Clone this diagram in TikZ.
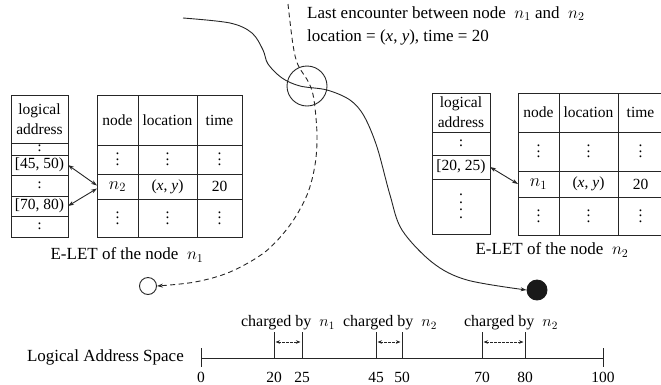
\RequirePackage{fix-cm}
\documentclass[tikz,border=0pt]{standalone}
\usepackage{fontspec}
\setmainfont{Liberation Serif}
\usetikzlibrary{arrows.meta}
\newcommand{\szmain}{\fontsize{17}{23}\selectfont}
\newcommand{\sztab}{\fontsize{15.5}{20}\selectfont}
\newcommand{\sznum}{\fontsize{15.5}{18}\selectfont}
\newcommand{\dtwo}{\vbox{\baselineskip=5pt\lineskiplimit=0pt\hbox{.}\hbox{.}}}
\newcommand{\dthree}{\vbox{\baselineskip=5.5pt\lineskiplimit=0pt\hbox{.}\hbox{.}\hbox{.}}}
\newcommand{\dfour}{\vbox{\baselineskip=7.5pt\lineskiplimit=0pt\hbox{.}\hbox{.}\hbox{.}\hbox{.}}}
\newcommand{\xy}{(\textit{x}, \textit{y})}
\newcommand{\bign}[1]{{\fontsize{18}{20}\selectfont$n_{#1}$}}
\newcommand{\tcell}[6]{\node[tcell, minimum width=#4pt, minimum height=#5pt] (#1) at (#2,#3) {#6};}
\begin{document}
\begin{tikzpicture}[x=1pt,y=-1pt,
  ln/.style={draw=black!85, line width=0.9pt},
  tcell/.style={draw=black!85, line width=0.9pt, rectangle, inner sep=0pt, outer sep=0pt, anchor=north west, align=center, font=\sztab},
  lbl/.style={inner sep=0pt, font=\szmain},
  tip/.style={-{Stealth[length=6pt,width=4pt]}},
  tips/.style={{Stealth[length=6pt,width=4pt]}-{Stealth[length=6pt,width=4pt]}},
  smalltips/.style={{Stealth[length=4.5pt,width=3.5pt]}-{Stealth[length=4.5pt,width=3.5pt]}},
  dsh/.style={dash pattern=on 5pt off 3.5pt},
  tick/.style={ln}]
\useasboundingbox (0,0) rectangle (661,384);

% ---------- left tables (node n1) ----------
\tcell{laA}{11}{95}{57}{48}{logical\\address}
\tcell{laB}{11}{143}{57}{12}{\raisebox{2pt}{\dtwo}}
\tcell{laC}{11}{155}{57}{20}{[45, 50)}
\tcell{laD}{11}{175}{57}{21}{\dtwo}
\tcell{laE}{11}{196}{57}{20}{[70, 80)}
\tcell{laF}{11}{216}{57}{21}{\dtwo}

\tcell{maH1}{97}{95}{41}{50}{node}
\tcell{maH2}{138}{95}{59}{50}{location}
\tcell{maH3}{197}{95}{45}{50}{time}
\tcell{maA1}{97}{145}{41}{29}{\dthree}
\tcell{maA2}{138}{145}{59}{29}{\dthree}
\tcell{maA3}{197}{145}{45}{29}{\dthree}
\tcell{maB1}{97}{174}{41}{25}{\bign{2}}
\tcell{maB2}{138}{174}{59}{25}{\xy}
\tcell{maB3}{197}{174}{45}{25}{20}
\tcell{maC1}{97}{199}{41}{38}{\dthree}
\tcell{maC2}{138}{199}{59}{38}{\dthree}
\tcell{maC3}{197}{199}{45}{38}{\dthree}

\draw[ln, tips] (laC.east) -- ([yshift=1pt]maB1.west);
\draw[ln, tips] (laE.east) -- ([yshift=-2pt]maB1.west);

\node[lbl] (capA) at (127,255) {E-LET of the node \ $n_1$};

% ---------- right tables (node n2) ----------
\tcell{lbA}{432}{93}{58}{39}{logical\\address}
\tcell{lbB}{432}{132}{58}{23}{\dtwo}
\tcell{lbC}{432}{155}{58}{24}{[20, 25)}
\tcell{lbD}{432}{179}{58}{55}{\dfour}

\tcell{mbH1}{518}{93}{41}{39}{node}
\tcell{mbH2}{559}{93}{59}{39}{location}
\tcell{mbH3}{618}{93}{45}{39}{time}
\tcell{mbA1}{518}{132}{41}{39}{\dthree}
\tcell{mbA2}{559}{132}{59}{39}{\dthree}
\tcell{mbA3}{618}{132}{45}{39}{\dthree}
\tcell{mbB1}{518}{171}{41}{26}{\bign{1}}
\tcell{mbB2}{559}{171}{59}{26}{\xy}
\tcell{mbB3}{618}{171}{45}{26}{20}
\tcell{mbC1}{518}{197}{41}{38}{\dthree}
\tcell{mbC2}{559}{197}{59}{38}{\dthree}
\tcell{mbC3}{618}{197}{45}{38}{\dthree}

\draw[ln, tips] (lbC.east) -- (mbB1.west);

\node[lbl] (capB) at (552,250) {E-LET of the node \ $n_2$};

% ---------- trajectories ----------
\node[circle, draw=black!85, line width=0.9pt, minimum size=40pt, inner sep=0pt] (meet) at (307,86) {};
\node[circle, draw=black!85, line width=0.9pt, minimum size=17pt, inner sep=0pt] (na) at (148,286) {};
\node[circle, draw=black!90, fill=black!90, line width=0.9pt, minimum size=20pt, inner sep=0pt] (nb) at (537,290) {};
\coordinate (sA) at (183,18);
\coordinate (sB) at (288,4);

\draw[ln, tip] plot[smooth, tension=0.55] coordinates {(sA) (230,23) (252,33) (263,50) (268,64) (282,78) (300,86) (327,90) (350,100) (364,116) (377,147) (390,195) (402,230) (433,263) (467,280) (nb.west)};
\draw[ln, dsh, tip] plot[smooth, tension=0.55] coordinates {(sB) (293,45) (298,65) (309,83) (314,100) (317,135) (315,165) (307,195) (290,225) (265,252) (230,272) (195,282) (na.east)};

\node[lbl, anchor=north west, align=left] (enc) at (307,6) {Last encounter between node \ $n_1$ and \ $n_2$\\location = \xy, time = 20};

% ---------- logical address space ----------
\node[lbl, anchor=east] (axl) at (184,357) {Logical Address Space};
\coordinate (t0) at (201,358);
\coordinate (t100) at (603,358);
\draw[ln] (t0) -- (t100);
\draw[tick] (t0) ++(0,-10) -- ++(0,19);
\draw[tick] (t100) ++(0,-10) -- ++(0,19);
\foreach \v/\xx in {20/274,25/302,45/376,50/402,70/482,80/525}{
  \coordinate (t\v) at (\xx,358);
  \draw[tick] (t\v) -- ++(0,-26);
}
\foreach \v/\xx in {0/201,20/274,25/302,45/376,50/402,70/482,80/525,100/603}{
  \node[inner sep=0pt, font=\sznum] (n\v) at (\xx,377) {\v};
}
\draw[ln, line width=0.7pt, dash pattern=on 2.5pt off 1.5pt, smalltips] ([xshift=1.5pt,yshift=16pt]t20) -- ([xshift=-1.5pt,yshift=16pt]t25);
\draw[ln, line width=0.7pt, dash pattern=on 2.5pt off 1.5pt, smalltips] ([xshift=1.5pt,yshift=16pt]t45) -- ([xshift=-1.5pt,yshift=16pt]t50);
\draw[ln, line width=0.7pt, dash pattern=on 2.5pt off 1.5pt, smalltips] ([xshift=1.5pt,yshift=16pt]t70) -- ([xshift=-1.5pt,yshift=16pt]t80);
\node[inner sep=0pt, font=\fontsize{16}{19}\selectfont] (c1) at (288,323) {charged by \ $n_1$};
\node[inner sep=0pt, font=\fontsize{16}{19}\selectfont] (c2) at (390,323) {charged by \ $n_2$};
\node[inner sep=0pt, font=\fontsize{16}{19}\selectfont] (c3) at (511,323) {charged by \ $n_2$};
\end{tikzpicture}
\end{document}
